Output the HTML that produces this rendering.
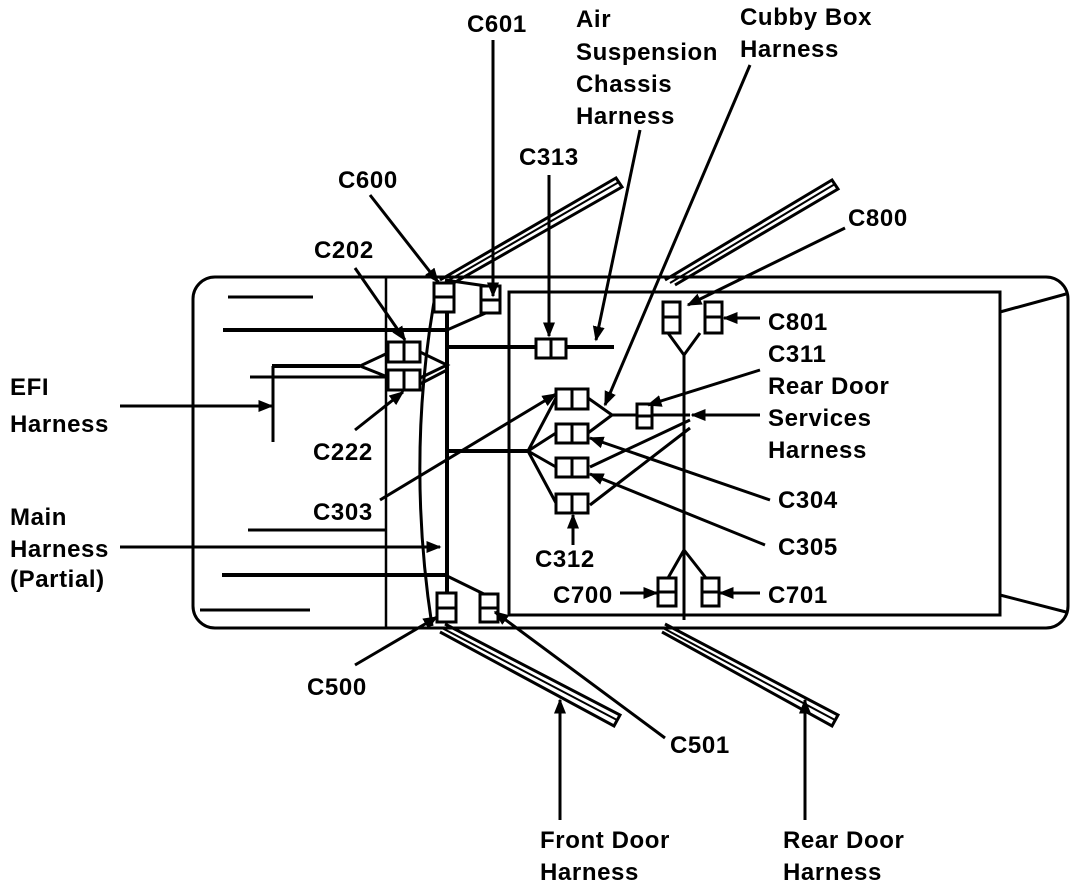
<!DOCTYPE html>
<html><head><meta charset="utf-8"><style>
body{margin:0;background:#fff}
svg text{font-family:"Liberation Sans",Arial,sans-serif;font-weight:bold;font-size:24px;letter-spacing:0.6px;fill:#000}
</style></head><body>
<svg width="1088" height="890" viewBox="0 0 1088 890" xmlns="http://www.w3.org/2000/svg">
<defs><marker id="a" viewBox="0 0 10 10" refX="9" refY="5" markerWidth="5" markerHeight="5" orient="auto"><path d="M0,1 L10,5 L0,9z" fill="#000"/></marker></defs>
<g stroke="#000" stroke-width="3" fill="none">
<rect x="193" y="277" width="875" height="351" rx="22"/>
<rect x="509" y="292" width="491" height="323" stroke-width="3"/>
<line x1="386" y1="278" x2="386" y2="628" stroke-width="2.5"/>
<line x1="1000" y1="312" x2="1066" y2="294"/>
<line x1="1000" y1="595" x2="1066" y2="612"/>
<path d="M438,280 Q405,450 432,626" stroke-width="3"/>
<line x1="447" y1="300" x2="447" y2="595" stroke-width="4"/>
<line x1="228" y1="297" x2="313" y2="297"/>
<line x1="223" y1="330" x2="447" y2="330" stroke-width="4"/>
<line x1="272" y1="366" x2="360" y2="366" stroke-width="4"/>
<line x1="250" y1="377" x2="390" y2="377"/>
<line x1="273" y1="366" x2="273" y2="442"/>
<line x1="248" y1="530" x2="385" y2="530"/>
<line x1="222" y1="575" x2="445" y2="575" stroke-width="4"/>
<line x1="445" y1="575" x2="490" y2="597"/>
<line x1="200" y1="610" x2="310" y2="610"/>
<path d="M360,366 L390,352 M360,366 L390,378 M420,352 L447,365 L420,378 M447,370 L420,384"/>
<line x1="447" y1="330" x2="488" y2="312"/>
<line x1="447" y1="347" x2="614" y2="347" stroke-width="4"/>
<line x1="447" y1="451" x2="528" y2="451" stroke-width="4"/>
<path d="M528,451 L556,398 M528,451 L556,433 M528,451 L556,467 M528,451 L556,503"/>
<path d="M588,398 L612,415 L690,415 M612,415 L588,433"/>
<line x1="684" y1="355" x2="684" y2="620" stroke-width="3"/>
<path d="M668,333 L684,355 L700,333 M684,550 L668,578 M684,550 L706,578"/>
<path d="M690,420 L590,467 M690,428 L590,505"/>
<path d="M440,280 L616,178 L622,187 L450,285" stroke-width="3"/>
<line x1="444" y1="283" x2="619" y2="182" stroke-width="2"/>
<path d="M665,280 L832,180 L838,189 L675,285"/>
<line x1="670" y1="283" x2="835" y2="184" stroke-width="2"/>
<path d="M445,624 L620,715 L614,726 L440,632"/>
<line x1="442" y1="628" x2="617" y2="720" stroke-width="2"/>
<path d="M665,624 L838,715 L832,726 L662,632"/>
<line x1="663" y1="628" x2="835" y2="720" stroke-width="2"/>
<line x1="445" y1="280" x2="500" y2="288"/>
</g>
<g stroke="#000" stroke-width="3" fill="#fff">
<rect x="388" y="342" width="32" height="20"/><line x1="404" y1="342" x2="404" y2="362"/>
<rect x="388" y="370" width="32" height="20"/><line x1="404" y1="370" x2="404" y2="390"/>
<rect x="434" y="283" width="20" height="29"/><line x1="434" y1="297" x2="454" y2="297"/>
<rect x="481" y="286" width="19" height="27"/><line x1="481" y1="300" x2="500" y2="300"/>
<rect x="437" y="593" width="19" height="29"/><line x1="437" y1="608" x2="456" y2="608"/>
<rect x="480" y="594" width="18" height="28"/><line x1="480" y1="608" x2="498" y2="608"/>
<rect x="536" y="339" width="30" height="19"/><line x1="551" y1="339" x2="551" y2="358"/>
<rect x="556" y="389" width="32" height="20"/><line x1="572" y1="389" x2="572" y2="409"/>
<rect x="556" y="424" width="32" height="19"/><line x1="572" y1="424" x2="572" y2="443"/>
<rect x="556" y="458" width="32" height="19"/><line x1="572" y1="458" x2="572" y2="477"/>
<rect x="556" y="494" width="32" height="19"/><line x1="572" y1="494" x2="572" y2="513"/>
<rect x="637" y="404" width="15" height="24"/><line x1="637" y1="416" x2="652" y2="416"/>
<rect x="663" y="302" width="17" height="31"/><line x1="663" y1="317" x2="680" y2="317"/>
<rect x="705" y="302" width="17" height="31"/><line x1="705" y1="317" x2="722" y2="317"/>
<rect x="658" y="578" width="18" height="28"/><line x1="658" y1="592" x2="676" y2="592"/>
<rect x="702" y="578" width="17" height="28"/><line x1="702" y1="592" x2="719" y2="592"/>
</g>
<g stroke="#000" stroke-width="3" fill="none" marker-end="url(#a)">
<line x1="493" y1="40" x2="493" y2="296"/>
<line x1="640" y1="130" x2="596" y2="340"/>
<line x1="750" y1="65" x2="605" y2="405"/>
<line x1="549" y1="175" x2="549" y2="336"/>
<line x1="370" y1="195" x2="438" y2="282"/>
<line x1="845" y1="228" x2="688" y2="305"/>
<line x1="355" y1="268" x2="405" y2="340"/>
<line x1="760" y1="318" x2="724" y2="318"/>
<line x1="760" y1="370" x2="648" y2="405"/>
<line x1="760" y1="415" x2="692" y2="415"/>
<line x1="770" y1="500" x2="590" y2="438"/>
<line x1="765" y1="545" x2="590" y2="474"/>
<line x1="573" y1="545" x2="573" y2="515"/>
<line x1="380" y1="500" x2="556" y2="394"/>
<line x1="355" y1="430" x2="403" y2="392"/>
<line x1="120" y1="406" x2="272" y2="406"/>
<line x1="120" y1="547" x2="440" y2="547"/>
<line x1="620" y1="593" x2="657" y2="593"/>
<line x1="760" y1="593" x2="720" y2="593"/>
<line x1="355" y1="665" x2="437" y2="617"/>
<line x1="665" y1="738" x2="495" y2="612"/>
<line x1="560" y1="820" x2="560" y2="700"/>
<line x1="805" y1="820" x2="805" y2="700"/>
</g>
<g>
<text x="467" y="32">C601</text>
<text x="576" y="27">Air</text><text x="576" y="60">Suspension</text><text x="576" y="92">Chassis</text><text x="576" y="124">Harness</text>
<text x="740" y="25">Cubby Box</text><text x="740" y="57">Harness</text>
<text x="519" y="165">C313</text>
<text x="338" y="188">C600</text>
<text x="848" y="226">C800</text>
<text x="314" y="258">C202</text>
<text x="768" y="330">C801</text>
<text x="768" y="362">C311</text>
<text x="768" y="394">Rear Door</text><text x="768" y="426">Services</text><text x="768" y="458">Harness</text>
<text x="10" y="395">EFI</text><text x="10" y="432">Harness</text>
<text x="313" y="460">C222</text>
<text x="10" y="525">Main</text><text x="10" y="557">Harness</text><text x="10" y="587">(Partial)</text>
<text x="313" y="520">C303</text>
<text x="778" y="508">C304</text>
<text x="535" y="567">C312</text>
<text x="778" y="555">C305</text>
<text x="553" y="603">C700</text>
<text x="768" y="603">C701</text>
<text x="307" y="695">C500</text>
<text x="670" y="753">C501</text>
<text x="540" y="848">Front Door</text><text x="540" y="880">Harness</text>
<text x="783" y="848">Rear Door</text><text x="783" y="880">Harness</text>
</g>
</svg>
</body></html>
